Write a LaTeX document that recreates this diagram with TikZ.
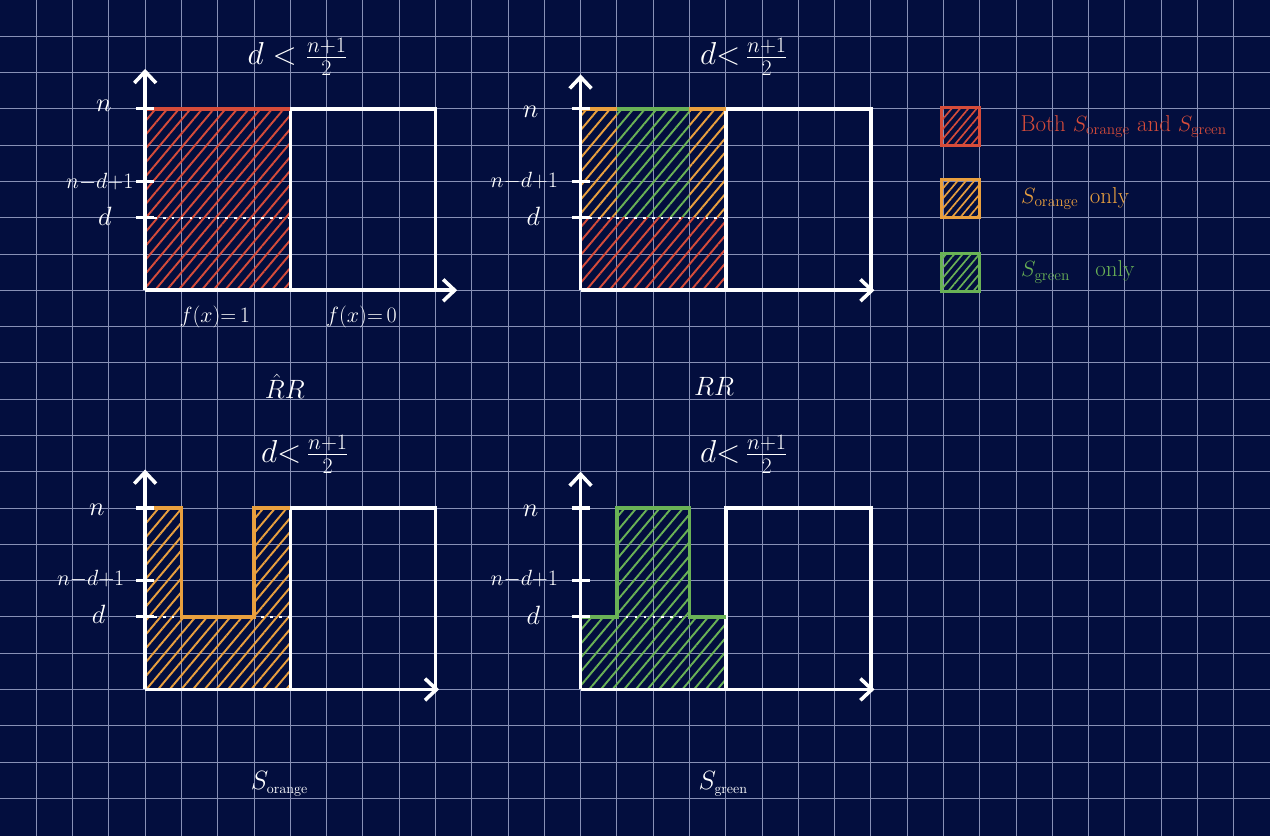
\documentclass[tikz,border=0pt]{standalone}
\usetikzlibrary{arrows.meta,patterns.meta,positioning}
\definecolor{board}{RGB}{3,14,62}
\definecolor{gridline}{RGB}{136,144,182}
\definecolor{hred}{RGB}{214,76,58}
\definecolor{horange}{RGB}{234,160,62}
\definecolor{hgreen}{RGB}{106,178,86}
\tikzset{
	gridrule/.style={gridline, line width=0.7pt},
	axisline/.style={white, line width=2.8pt, -{Straight Barb[length=9pt,width=17pt]}},
	boxline/.style={white, line width=2.8pt},
	tickmark/.style={white, line width=2.4pt},
	dline/.style={white, line width=1.8pt, dash pattern=on 2pt off 5pt},
	hatch/.style={pattern={Lines[angle=50,distance=7pt,line width=1.5pt]}, pattern color=#1},
	rim/.style={#1, line width=2.8pt},
	ylabel/.style={text=white, font=\fontsize{22}{24}\selectfont, inner sep=0pt},
	ysmall/.style={text=white, font=\fontsize{17}{19}\selectfont, inner sep=0pt},
	headline/.style={text=white, font=\fontsize{23}{26}\selectfont, inner sep=0pt},
	under/.style={text=white, font=\fontsize{16}{18}\selectfont, inner sep=0pt},
	caption/.style={text=white, font=\fontsize{21}{24}\selectfont, inner sep=0pt},
	legendbox/.style={draw=#1, line width=2.4pt, minimum size=1.05cm, inner sep=0pt,
		pattern={Lines[angle=50,distance=5pt,line width=1.3pt]}, pattern color=#1},
	legendtext/.style={text=#1, font=\fontsize{18}{20}\selectfont, inner sep=0pt}
}
\begin{document}
\begin{tikzpicture}
	% board and grid
	\fill[board] (0,0) rectangle (35,23.04);
	\useasboundingbox (0,0) rectangle (35,23.04);
	\foreach \k in {1,...,34} \draw[gridrule] (\k,0) -- (\k,23.04);
	\foreach \k in {1,...,22} \draw[gridrule] (0,\k+0.04) -- (35,\k+0.04);

	% top left
	\begin{scope}[shift={(4,15.04)}]
		\path[hatch=hred] (0,0) rectangle (4,5);
		\draw[dline] (0,2) -- (4,2);
		\draw[boxline] (4,0) -- (4,5) -- (8,5) -- (8,0);
		\draw[rim=hred] (0,5) -- (4,5);
		\draw[axisline] (0,0) -- (8.6,0);
		\draw[axisline] (0,0) -- (0,6.1);
		\foreach \t in {2,3,5} \draw[tickmark] (-0.25,\t) -- (0.25,\t);
		\node[ylabel] (na) at (-1.14,5.08) {$n$};
		\node[ysmall] (ma) at (-1.25,3.0) {$n{-}d{+}1$};
		\node[ylabel] (da) at (-1.11,2.03) {$d$};
		\node[headline] (ta) at (4.2,6.43) {$d < \frac{n+1}{2}$};
		\node[under] (fone) at (1.92,-0.75) {$f(x){=}\,1$};
		\node[under] (fzero) at (5.96,-0.75) {$f(x){=}\,0$};
		\node[caption] (ca) at (3.85,-2.65) {$\hat{R}R$};
	\end{scope}

	% top middle
	\begin{scope}[shift={(16,15.04)}]
		\path[hatch=horange] (0,2) rectangle (1,5) (3,2) rectangle (4,5);
		\path[hatch=hgreen] (1,2) rectangle (3,5);
		\path[hatch=hred] (0,0) rectangle (4,2);
		\draw[dline] (0,2) -- (4,2);
		\draw[boxline] (4,0) -- (4,5) -- (8,5) -- (8,0);
		\draw[rim=horange] (0,5) -- (1,5);
		\draw[rim=hgreen] (1,5) -- (3,5);
		\draw[rim=horange] (3,5) -- (4,5);
		\draw[axisline] (0,0) -- (8.1,0);
		\draw[axisline] (0,0) -- (0,5.95);
		\foreach \t in {2,3,5} \draw[tickmark] (-0.25,\t) -- (0.25,\t);
		\node[ylabel] (nb) at (-1.38,4.92) {$n$};
		\node[ysmall] (mb) at (-1.55,3.02) {$n{-}d{+}1$};
		\node[ylabel] (db) at (-1.3,2.03) {$d$};
		\node[headline] (tb) at (4.5,6.43) {$d{<}\,\frac{n+1}{2}$};
		\node[caption] (cb) at (3.68,-2.65) {$RR$};
	\end{scope}

	% bottom left
	\begin{scope}[shift={(4,4.04)}]
		\path[hatch=horange] (0,0) -- (0,5) -- (1,5) -- (1,2) -- (3,2) -- (3,5) -- (4,5) -- (4,0) -- cycle;
		\draw[dline] (0,2) -- (4,2);
		\draw[boxline] (4,0) -- (4,5) -- (8,5) -- (8,0);
		\draw[rim=horange] (0,5) -- (1,5) -- (1,2) -- (3,2) -- (3,5) -- (4,5);
		\draw[axisline] (0,0) -- (8.1,0);
		\draw[axisline] (0,0) -- (0,6.06);
		\foreach \t in {2,3,5} \draw[tickmark] (-0.25,\t) -- (0.25,\t);
		\node[ylabel] (nc) at (-1.33,4.96) {$n$};
		\node[ysmall] (mc) at (-1.5,3.04) {$n{-}d{+}1$};
		\node[ylabel] (dc) at (-1.28,2.07) {$d$};
		\node[headline] (tc) at (4.4,6.48) {$d{<}\,\frac{n+1}{2}$};
		\node[caption] (cc) at (3.7,-2.6) {$S_{\scriptscriptstyle\mathrm{orange}}$};
	\end{scope}

	% bottom middle
	\begin{scope}[shift={(16,4.04)}]
		\path[hatch=hgreen] (0,0) -- (0,2) -- (1,2) -- (1,5) -- (3,5) -- (3,2) -- (4,2) -- (4,0) -- cycle;
		\draw[dline] (1,2) -- (3,2);
		\draw[boxline] (4,0) -- (4,5) -- (8,5) -- (8,0);
		\draw[rim=hgreen] (0,2) -- (1,2) -- (1,5) -- (3,5) -- (3,2) -- (4,2);
		\draw[axisline] (0,0) -- (8.1,0);
		\draw[axisline] (0,0) -- (0,6.0);
		\foreach \t in {2,3,5} \draw[tickmark] (-0.25,\t) -- (0.25,\t);
		\node[ylabel] (nd) at (-1.38,4.91) {$n$};
		\node[ysmall] (md) at (-1.55,3.04) {$n{-}d{+}1$};
		\node[ylabel] (dd) at (-1.3,2.04) {$d$};
		\node[headline] (td) at (4.5,6.48) {$d{<}\,\frac{n+1}{2}$};
		\node[caption] (cd) at (3.93,-2.6) {$S_{\scriptscriptstyle\mathrm{green}}$};
	\end{scope}

	% legend
	\node[legendbox=hred] (kred) at (26.47,19.55) {};
	\node[legendbox=horange] (korange) at (26.47,17.56) {};
	\node[legendbox=hgreen] (kgreen) at (26.47,15.54) {};
	\node[legendtext=hred, right=1.1cm of kred] (lred)
		{Both $S_{\mathrm{orange}}$ and $S_{\mathrm{green}}$};
	\node[legendtext=horange, right=1.1cm of korange] (lorange)
		{$S_{\mathrm{orange}}$\hspace{0.5em}only};
	\node[legendtext=hgreen, right=1.1cm of kgreen] (lgreen)
		{$S_{\mathrm{green}}$\hspace{1.1em}only};
\end{tikzpicture}
\end{document}
